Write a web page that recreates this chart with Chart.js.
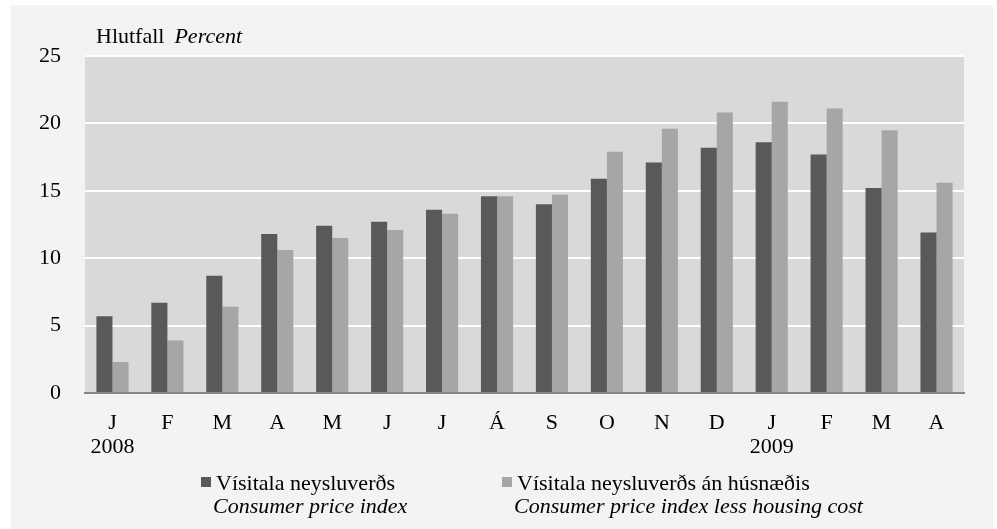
<!DOCTYPE html>
<html>
<head>
<meta charset="utf-8">
<script src="https://cdn.jsdelivr.net/npm/chart.js@4/dist/chart.umd.min.js"></script>
<style>
  html, body { margin: 0; padding: 0; background: #ffffff; }
  #wrap { width: 997px; height: 529px; position: relative; }
</style>
</head>
<body>
<div id="wrap"><canvas id="chart"></canvas></div>
<script>
/* --------------- Data --------------------- */
const months = ["J", "F", "M", "A", "M", "J", "J", "Á", "S", "O", "N", "D", "J", "F", "M", "A"];
const years = ["2008", "", "", "", "", "", "", "", "", "", "", "", "2009", "", "", ""];
const cpi = [5.7, 6.7, 8.7, 11.8, 12.4, 12.7, 13.6, 14.6, 14.0, 15.9, 17.1, 18.2, 18.6, 17.7, 15.2, 11.9];
const cpiLessHousing = [2.3, 3.9, 6.4, 10.6, 11.5, 12.1, 13.3, 14.6, 14.7, 17.9, 19.6, 20.8, 21.6, 21.1, 19.5, 15.6];
const seriesNames = ["Vísitala neysluverðs", "Vísitala neysluverðs án húsnæðis"];
const seriesNamesEn = ["Consumer price index", "Consumer price index less housing cost"];
const yTicks = [0, 5, 10, 15, 20, 25];

/* --------------- Colors / fonts --------------------- */
const darkGrey = "#595959";
const lightGrey = "#a6a6a6";
const plotBg = "#d9d9d9";
const panelBg = "#f2f3f3";
const serif = "'Liberation Serif', 'Times New Roman', serif";

// labels: month on first line, year underneath where there is one
const labels = months.map((m, i) => (years[i] ? [m, years[i]] : m));

/* --------------- Background, title and legend --------------------- */
const decorations = {
  id: "decorations",
  beforeDraw(chart) {
    const { ctx, chartArea } = chart;
    ctx.save();
    ctx.fillStyle = panelBg;
    ctx.fillRect(11, 5, 982, 524);
    ctx.fillStyle = plotBg;
    ctx.fillRect(chartArea.left, chartArea.top, chartArea.right - chartArea.left, chartArea.bottom - chartArea.top);
    ctx.restore();
  },
  afterDraw(chart) {
    const { ctx } = chart;
    ctx.save();
    ctx.fillStyle = "#000000";
    ctx.textBaseline = "alphabetic";
    ctx.textAlign = "left";

    // title
    ctx.font = "22px " + serif;
    ctx.fillText("Hlutfall", 96, 43);
    const w = ctx.measureText("Hlutfall").width;
    ctx.font = "italic 22px " + serif;
    ctx.fillText("Percent", 96 + w + 10, 43);

    // legend
    const legendX = [201, 502];
    const colors = [darkGrey, lightGrey];
    for (let i = 0; i < 2; i++) {
      ctx.fillStyle = colors[i];
      ctx.fillRect(legendX[i], 477, 10, 10);
      ctx.fillStyle = "#000000";
      ctx.font = "22px " + serif;
      ctx.fillText(seriesNames[i], legendX[i] + 15, 490);
      ctx.font = "italic 22px " + serif;
      ctx.fillText(seriesNamesEn[i], legendX[i] + 12, 513);
    }
    ctx.restore();
  },
};

/* --------------- Chart --------------------- */
new Chart(document.getElementById("chart"), {
  type: "bar",
  plugins: [decorations],
  data: {
    labels: labels,
    datasets: [
      { label: seriesNames[0], data: cpi, backgroundColor: darkGrey, borderWidth: 0 },
      { label: seriesNames[1], data: cpiLessHousing, backgroundColor: lightGrey, borderWidth: 0 },
    ],
  },
  options: {
    responsive: true,
    maintainAspectRatio: false,
    animation: false,
    devicePixelRatio: 1,
    layout: { padding: { top: 56, right: 33, bottom: 0, left: 0 } },
    datasets: { bar: { categoryPercentage: 0.585, barPercentage: 1.0 } },
    plugins: {
      legend: { display: false },
      tooltip: { enabled: false },
      title: { display: false },
    },
    scales: {
      x: {
        grid: { display: false, drawTicks: false },
        border: { display: true, color: "#868686", width: 2 },
        ticks: {
          color: "#000000",
          font: { family: serif, size: 22, lineHeight: 1.1 },
          padding: 18,
          maxRotation: 0,
          autoSkip: false,
        },
        afterFit(scale) { scale.height = 136; },
      },
      y: {
        min: 0,
        max: 25,
        afterBuildTicks(scale) { scale.ticks = yTicks.map((v) => ({ value: v })); },
        grid: { color: "#ffffff", lineWidth: 2, drawTicks: false },
        border: { display: false },
        ticks: {
          color: "#000000",
          font: { family: serif, size: 22 },
          padding: 24,
        },
        afterFit(scale) { scale.width = 85; },
      },
    },
  },
});
</script>
</body>
</html>
